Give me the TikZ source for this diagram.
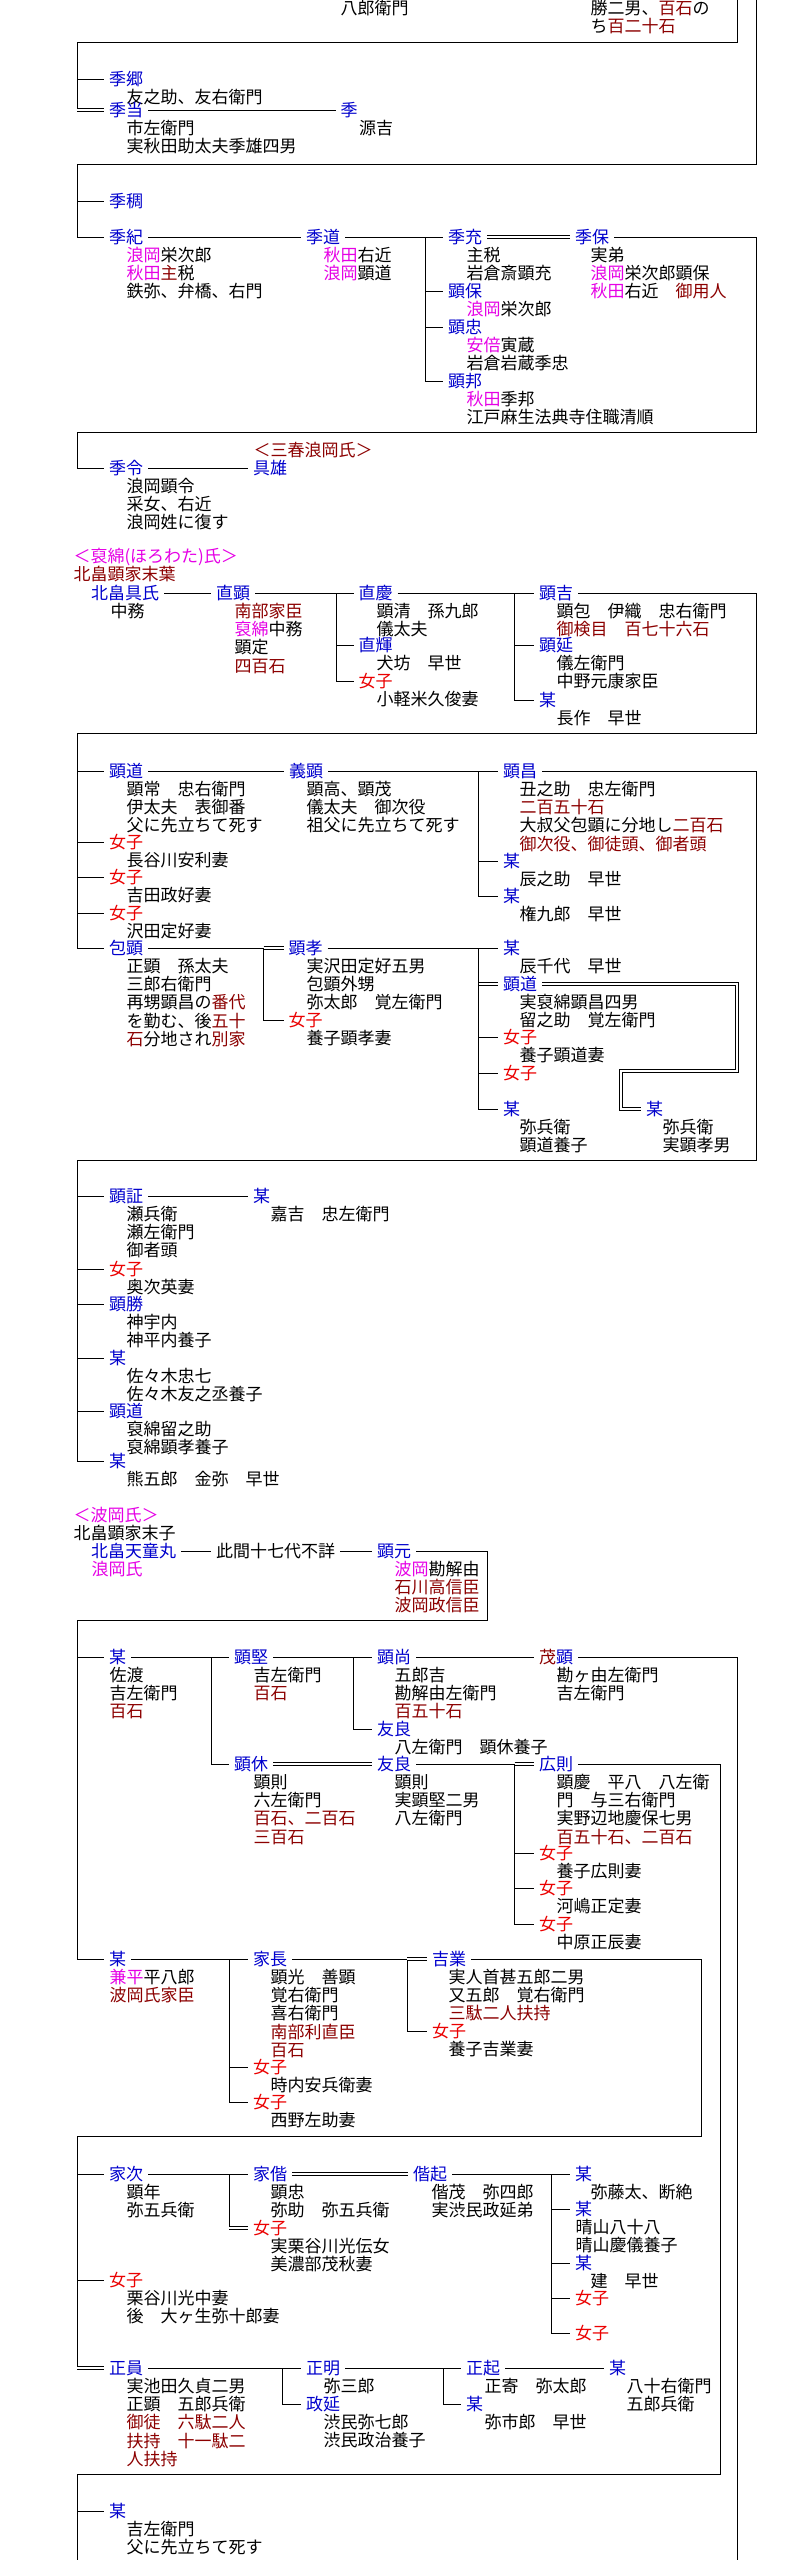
\documentclass[tikz,border=0pt]{standalone}
\usepackage{fontspec}
\setmainfont{Noto Sans CJK JP}
\usetikzlibrary{calc}
\definecolor{nb}{RGB}{0,0,205}
\definecolor{fr}{RGB}{235,0,0}
\definecolor{dr}{RGB}{140,0,0}
\definecolor{mg}{RGB}{230,0,230}
\tikzset{
 base/.style={inner sep=0pt, text height=14.5pt, text depth=2pt, anchor=west},
 nm/.style={base, outer xsep=5pt, xshift=-5pt, text=nb},
 fm/.style={nm, text=fr},
 bk/.style={nm, text=black},
 an/.style={base},
 dl/.style={line width=0.9pt, double, double distance=1.6pt},
}
\newcommand\mkann[4]{\foreach \annline [count=\annidx] in {#4}{\node[an] (#1-\annidx) at (#2,{#3+18.2*\annidx}) {\annline};}}
\begin{document}
\begin{tikzpicture}[x=1pt,y=-1pt,line width=1pt,every node/.style={font=\fontsize{17}{18.2}\selectfont}]
\useasboundingbox (0,0) rectangle (794,2560);
\fill[white] (0,0) rectangle (794,2560);
% ---------- top fragment
\node[an] (t1) at (340,8) {八郎衛門};
\node[an] (t2) at (590,8) {勝二男、\textcolor{dr}{百石}の};
\node[an] (t3) at (590,26) {ち\textcolor{dr}{百二十石}};
\coordinate (cT1) at (737,-3);
\coordinate (cT2) at (756,-3);
\coordinate (cA) at (77,42);
\draw (cT1) |- (cA);
% ---------- block A
\node[nm] (kA1) at (109,79) {季郷};
\mkann{kA1}{126}{79}{友之助、友右衛門}
\node[nm] (kA2) at (109,110) {季当};
\mkann{kA2}{126}{110}{市左衛門,実秋田助太夫季雄四男}
\node[nm] (kA3) at (340.5,110) {季};
\mkann{kA3}{358.5}{110}{源吉}
\draw (cA) -- (cA |- kA2.west);
\draw[dl] (cA |- kA2.west) -- (kA2.west);
\draw (cA |- kA1.west) -- (kA1.west);
\draw (kA2.east) -- (kA3.west);
% ---------- block B
\coordinate (cB) at (77,164);
\node[nm] (kB1) at (109,201) {季稠};
\node[nm] (kB2) at (109,237) {季紀};
\mkann{kB2}{126}{237}{\textcolor{mg}{浪岡}栄次郎,\textcolor{mg}{秋田}\textcolor{dr}{主}税,鉄弥、弁橋、右門}
\node[nm] (kB3) at (306,237) {季道};
\mkann{kB3}{323}{237}{\textcolor{mg}{秋田}右近,\textcolor{mg}{浪岡}顕道}
\node[nm] (kB4) at (448,237) {季充};
\mkann{kB4}{466}{237}{主税,岩倉斎顕充}
\node[nm] (kB5) at (448,291) {顕保};
\mkann{kB5}{466}{291}{\textcolor{mg}{浪岡}栄次郎}
\node[nm] (kB6) at (448,327) {顕忠};
\mkann{kB6}{466}{327}{\textcolor{mg}{安倍}寅蔵,岩倉岩蔵季忠}
\node[nm] (kB7) at (448,381) {顕邦};
\mkann{kB7}{466}{381}{\textcolor{mg}{秋田}季邦,江戸麻生法典寺住職清順}
\node[nm] (kB8) at (575,237) {季保};
\mkann{kB8}{590}{237}{実弟,\textcolor{mg}{浪岡}栄次郎顕保,\textcolor{mg}{秋田}右近　\textcolor{dr}{御用人}}
\draw (cT2) |- (cB) |- (kB2.west);
\draw (cB |- kB1.west) -- (kB1.west);
\coordinate (vB) at (425,237);
\draw (kB2.east) -- (kB3.west);
\draw (kB3.east) -- (kB4.west);
\draw (vB) |- (kB7.west);
\draw (vB |- kB5.west) -- (kB5.west);
\draw (vB |- kB6.west) -- (kB6.west);
\draw[dl] (kB4.east) -- (kB8.west);
% ---------- block C
\coordinate (cCr) at (756,432);
\coordinate (cC) at (77,432);
\node[nm] (kC1) at (109,468) {季令};
\mkann{kC1}{126}{468}{浪岡顕令,采女、右近,浪岡姓に復す}
\node[nm] (kC2) at (253,468) {具雄};
\node[an,text=dr] (hC) at (253,450) {＜三春浪岡氏＞};
\draw (kB8.east) -| (cCr) -- (cC) |- (kC1.west);
\draw (kC1.east) -- (kC2.west);
% ---------- Horowata
\node[an,text=mg] (hD1) at (73,556) {＜裒綿(ほろわた)氏＞};
\node[an,text=dr] (hD2) at (73,574) {北畠顕家末葉};
\node[nm] (kD1) at (91,593) {北畠具氏};
\node[an] (kD1-1) at (110,611) {中務};
\node[nm] (kD2) at (216,593) {直顕};
\mkann{kD2}{234}{593}{\textcolor{dr}{南部家臣},\textcolor{mg}{裒綿}中務,顕定,\textcolor{dr}{四百石}}
\node[nm] (kD3) at (358.5,593) {直慶};
\mkann{kD3}{376}{593}{顕清　孫九郎,儀太夫}
\node[nm] (kD4) at (358.5,645) {直輝};
\mkann{kD4}{376}{645}{犬坊　早世}
\node[fm] (kD5) at (358.5,681) {女子};
\mkann{kD5}{376}{681}{小軽米久俊妻}
\node[nm] (kD6) at (539,593) {顕吉};
\mkann{kD6}{556}{593}{顕包　伊織　忠右衛門,\textcolor{dr}{御検目　百七十六石}}
\node[nm] (kD7) at (539,645) {顕延};
\mkann{kD7}{556}{645}{儀左衛門,中野元康家臣}
\node[nm] (kD8) at (539,700) {某};
\mkann{kD8}{556}{700}{長作　早世}
\draw (kD1.east) -- (kD2.west);
\draw (kD2.east) -- (kD3.west);
\coordinate (vD1) at (336.5,593);
\draw (vD1) |- (kD5.west);
\draw (vD1 |- kD4.west) -- (kD4.west);
\draw (kD3.east) -- (kD6.west);
\coordinate (vD2) at (514.6,593);
\draw (vD2) |- (kD8.west);
\draw (vD2 |- kD7.west) -- (kD7.west);
% ---------- block E
\coordinate (cEr) at (756,733);
\coordinate (cE) at (77,733);
\node[nm] (kE1) at (109,771) {顕道};
\mkann{kE1}{126}{771}{顕常　忠右衛門,伊太夫　表御番,父に先立ちて死す}
\node[nm] (kE2) at (289,771) {義顕};
\mkann{kE2}{306}{771}{顕高、顕茂,儀太夫　御次役,祖父に先立ちて死す}
\node[nm] (kE3) at (503,771) {顕昌};
\mkann{kE3}{519}{771}{丑之助　忠左衛門,\textcolor{dr}{二百五十石},大叔父包顕に分地し\textcolor{dr}{二百石},\textcolor{dr}{御次役、御徒頭、御者頭}}
\node[nm] (kE4) at (503,861) {某};
\mkann{kE4}{519}{861}{辰之助　早世}
\node[nm] (kE5) at (503,896) {某};
\mkann{kE5}{519}{896}{権九郎　早世}
\node[fm] (kE6) at (109,842) {女子};
\mkann{kE6}{126}{842}{長谷川安利妻}
\node[fm] (kE7) at (109,877) {女子};
\mkann{kE7}{126}{877}{吉田政好妻}
\node[fm] (kE8) at (109,913) {女子};
\mkann{kE8}{126}{913}{沢田定好妻}
\node[nm] (kE9) at (109,948) {包顕};
\mkann{kE9}{126}{948}{正顕　孫太夫,三郎右衛門,再甥顕昌の\textcolor{dr}{番代},を勤む、後\textcolor{dr}{五十},\textcolor{dr}{石}分地され\textcolor{dr}{別家}}
\node[nm] (kE10) at (288.6,948) {顕孝};
\mkann{kE10}{306}{948}{実沢田定好五男,包顕外甥,弥太郎　覚左衛門}
\node[fm] (kE11) at (288.6,1020) {女子};
\mkann{kE11}{306}{1020}{養子顕孝妻}
\node[nm] (kE12) at (503,948) {某};
\mkann{kE12}{519}{948}{辰千代　早世}
\node[nm] (kE13) at (503,984) {顕道};
\mkann{kE13}{519}{984}{実裒綿顕昌四男,留之助　覚左衛門}
\node[fm] (kE14) at (503,1037) {女子};
\mkann{kE14}{519}{1037}{養子顕道妻}
\node[fm] (kE15) at (503,1073) {女子};
\node[nm] (kE16) at (503,1109) {某};
\mkann{kE16}{519}{1109}{弥兵衛,顕道養子}
\node[nm] (kE17) at (646,1109) {某};
\mkann{kE17}{662}{1109}{弥兵衛,実顕孝男}
\draw (kD6.east) -| (cEr) -- (cE) |- (kE9.west);
\draw (cE |- kE1.west) -- (kE1.west);
\draw (cE |- kE6.west) -- (kE6.west);
\draw (cE |- kE7.west) -- (kE7.west);
\draw (cE |- kE8.west) -- (kE8.west);
\draw (kE1.east) -- (kE2.west);
\draw (kE2.east) -- (kE3.west);
\coordinate (vE1) at (478.7,771);
\draw (vE1) |- (kE5.west);
\draw (vE1 |- kE4.west) -- (kE4.west);
\coordinate (vE2) at (263.7,948);
\draw (kE9.east) -- (vE2) |- (kE11.west);
\draw[dl] (vE2) -- (kE10.west);
\draw (kE10.east) -- (kE12.west);
\coordinate (vE3) at (478.7,948);
\draw (vE3) |- (kE16.west);
\draw[dl] (vE3 |- kE13.west) -- (kE13.west);
\draw (vE3 |- kE14.west) -- (kE14.west);
\draw (vE3 |- kE15.west) -- (kE15.west);
\coordinate (dE1) at (737,1071);
\coordinate (dE2) at (621,1071);
\draw[dl] (kE13.east) -| (dE1) -- (dE2) |- (kE17.west);
% ---------- block F
\coordinate (cFr) at (756,1160);
\coordinate (cF) at (77,1160);
\node[nm] (kF1) at (109,1196) {顕証};
\mkann{kF1}{126}{1196}{瀬兵衛,瀬左衛門,御者頭}
\node[nm] (kF2) at (253,1196) {某};
\mkann{kF2}{270}{1196}{嘉吉　忠左衛門}
\node[fm] (kF3) at (109,1269) {女子};
\mkann{kF3}{126}{1269}{奥次英妻}
\node[nm] (kF4) at (109,1304) {顕勝};
\mkann{kF4}{126}{1304}{神宇内,神平内養子}
\node[nm] (kF5) at (109,1358) {某};
\mkann{kF5}{126}{1358}{佐々木忠七,佐々木友之丞養子}
\node[nm] (kF6) at (109,1411) {顕道};
\mkann{kF6}{126}{1411}{裒綿留之助,裒綿顕孝養子}
\node[nm] (kF7) at (109,1461) {某};
\mkann{kF7}{126}{1461}{熊五郎　金弥　早世}
\draw (kE3.east) -| (cFr) -- (cF) |- (kF7.west);
\foreach \k in {kF1,kF3,kF4,kF5,kF6} {\draw (cF |- \k.west) -- (\k.west);}
\draw (kF1.east) -- (kF2.west);
% ---------- Namioka
\node[an,text=mg] (hN1) at (73,1515) {＜波岡氏＞};
\node[an] (hN2) at (73,1533) {北畠顕家末子};
\node[nm] (kG1) at (91,1551) {北畠天童丸};
\node[an,text=mg] (kG1-1) at (91,1569) {浪岡氏};
\node[bk] (kG2) at (216,1551) {此間十七代不詳};
\node[nm] (kG3) at (377,1551) {顕元};
\mkann{kG3}{394}{1551}{\textcolor{mg}{波岡}勘解由,\textcolor{dr}{石川高信臣},\textcolor{dr}{波岡政信臣}}
\draw (kG1.east) -- (kG2.west);
\draw (kG2.east) -- (kG3.west);
\coordinate (cGr) at (487.5,1620);
\coordinate (cG) at (77,1620);
% ---------- block H
\node[nm] (kH1) at (109,1657) {某};
\mkann{kH1}{109}{1657}{佐渡,吉左衛門,\textcolor{dr}{百石}}
\node[nm] (kH2) at (234,1657) {顕堅};
\mkann{kH2}{253}{1657}{吉左衛門,\textcolor{dr}{百石}}
\node[nm] (kH3) at (377,1657) {顕尚};
\mkann{kH3}{394}{1657}{五郎吉,勘解由左衛門,\textcolor{dr}{百五十石}}
\node[nm] (kH4) at (377,1729) {友良};
\mkann{kH4}{394}{1729}{八左衛門　顕休養子}
\node[nm] (kH5) at (539,1657) {\textcolor{dr}{茂}顕};
\mkann{kH5}{556}{1657}{勘ヶ由左衛門,吉左衛門}
\node[nm] (kH6) at (234,1764) {顕休};
\mkann{kH6}{253}{1764}{顕則,六左衛門,\textcolor{dr}{百石、二百石},\textcolor{dr}{三百石}}
\node[nm] (kH7) at (377,1764) {友良};
\mkann{kH7}{394}{1764}{顕則,実顕堅二男,八左衛門}
\node[nm] (kH8) at (539,1764) {広則};
\mkann{kH8}{556}{1764}{顕慶　平八　八左衛,門　与三右衛門,実野辺地慶保七男,\textcolor{dr}{百五十石、二百石}}
\node[fm] (kH9) at (539,1853) {女子};
\mkann{kH9}{556}{1853}{養子広則妻}
\node[fm] (kH10) at (539,1888) {女子};
\mkann{kH10}{556}{1888}{河嶋正定妻}
\node[fm] (kH11) at (539,1924) {女子};
\mkann{kH11}{556}{1924}{中原正辰妻}
% ---------- block I
\node[nm] (kI1) at (109,1959) {某};
\mkann{kI1}{109}{1959}{\textcolor{mg}{兼平}平八郎,\textcolor{dr}{波岡氏家臣}}
\node[nm] (kI2) at (253,1959) {家長};
\mkann{kI2}{270}{1959}{顕光　善顕,覚右衛門,喜右衛門,\textcolor{dr}{南部利直臣},\textcolor{dr}{百石}}
\node[fm] (kI3) at (253,2067) {女子};
\mkann{kI3}{270}{2067}{時内安兵衛妻}
\node[fm] (kI4) at (253,2102) {女子};
\mkann{kI4}{270}{2102}{西野左助妻}
\node[nm] (kI5) at (432,1959) {吉業};
\mkann{kI5}{448}{1959}{実人首甚五郎二男,又五郎　覚右衛門,\textcolor{dr}{三駄二人扶持}}
\node[fm] (kI6) at (432,2031) {女子};
\mkann{kI6}{448}{2031}{養子吉業妻}
\draw (kG3.east) -| (cGr) -- (cG) |- (kI1.west);
\draw (cG |- kH1.west) -- (kH1.west);
\draw (kH1.east) -- (kH2.west);
\coordinate (vH1) at (211.5,1657);
\draw (vH1) |- (kH6.west);
\draw (kH2.east) -- (kH3.west);
\coordinate (vH2) at (353.3,1657);
\draw (vH2) |- (kH4.west);
\draw (kH3.east) -- (kH5.west);
\coordinate (cHb) at (737,2570);
\draw (kH5.east) -| (cHb);
\draw[dl] (kH6.east) -- (kH7.west);
\coordinate (vH3) at (514.6,1764);
\draw (kH7.east) -- (vH3) |- (kH11.west);
\draw[dl] (vH3) -- (kH8.west);
\draw (vH3 |- kH9.west) -- (kH9.west);
\draw (vH3 |- kH10.west) -- (kH10.west);
\coordinate (vI1) at (229.4,1959);
\draw (kI1.east) -- (kI2.west);
\draw (vI1) |- (kI4.west);
\draw (vI1 |- kI3.west) -- (kI3.west);
\coordinate (vI2) at (407,1959);
\draw (kI2.east) -- (vI2) |- (kI6.west);
\draw[dl] (vI2) -- (kI5.west);
% ---------- block J
\coordinate (cJr) at (701.5,2136);
\coordinate (cJ) at (77,2136);
\node[nm] (kJ1) at (109,2174) {家次};
\mkann{kJ1}{126}{2174}{顕年,弥五兵衛}
\node[nm] (kJ2) at (253,2174) {家偕};
\mkann{kJ2}{270}{2174}{顕忠,弥助　弥五兵衛}
\node[fm] (kJ3) at (253,2228) {女子};
\mkann{kJ3}{270}{2228}{実栗谷川光伝女,美濃部茂秋妻}
\node[nm] (kJ4) at (413,2174) {偕起};
\mkann{kJ4}{431}{2174}{偕茂　弥四郎,実渋民政延弟}
\node[nm] (kJ5) at (575,2174) {某};
\mkann{kJ5}{590}{2174}{弥藤太、断絶}
\node[nm] (kJ6) at (575,2209) {某};
\mkann{kJ6}{575}{2209}{晴山八十八,晴山慶儀養子}
\node[nm] (kJ7) at (575,2263) {某};
\mkann{kJ7}{590}{2263}{建　早世}
\node[fm] (kJ8) at (575,2298) {女子};
\node[fm] (kJ9) at (575,2333) {女子};
\node[fm] (kJ10) at (109,2280) {女子};
\mkann{kJ10}{126}{2280}{栗谷川光中妻,後　大ヶ生弥十郎妻}
\node[nm] (kJ11) at (109,2368) {正員};
\mkann{kJ11}{126}{2368}{実池田久貞二男,正顕　五郎兵衛,\textcolor{dr}{御徒　六駄二人},\textcolor{dr}{扶持　十一駄二},\textcolor{dr}{人扶持}}
\node[nm] (kJ12) at (306,2368) {正明};
\mkann{kJ12}{323}{2368}{弥三郎}
\node[nm] (kJ13) at (306,2404) {政延};
\mkann{kJ13}{323}{2404}{渋民弥七郎,渋民政治養子}
\node[nm] (kJ14) at (466,2368) {正起};
\mkann{kJ14}{484}{2368}{正寄　弥太郎}
\node[nm] (kJ15) at (466,2404) {某};
\mkann{kJ15}{484}{2404}{弥市郎　早世}
\node[nm] (kJ16) at (609,2368) {某};
\mkann{kJ16}{626}{2368}{八十右衛門,五郎兵衛}
\draw (kI5.east) -| (cJr) -- (cJ) -- (cJ |- kJ11.west);
\draw[dl] (cJ |- kJ11.west) -- (kJ11.west);
\draw (cJ |- kJ1.west) -- (kJ1.west);
\draw (cJ |- kJ10.west) -- (kJ10.west);
\coordinate (vJ1) at (229.4,2174);
\draw (kJ1.east) -- (kJ2.west);
\draw (vJ1) -- (vJ1 |- kJ3.west);
\draw[dl] (vJ1 |- kJ3.west) -- (kJ3.west);
\draw[dl] (kJ2.east) -- (kJ4.west);
\coordinate (vJ2) at (551.5,2174);
\draw (kJ4.east) -- (kJ5.west);
\draw (vJ2) |- (kJ9.west);
\draw (vJ2 |- kJ6.west) -- (kJ6.west);
\draw (vJ2 |- kJ7.west) -- (kJ7.west);
\draw (vJ2 |- kJ8.west) -- (kJ8.west);
\coordinate (vJ3) at (282.6,2368);
\draw (kJ11.east) -- (kJ12.west);
\draw (vJ3) |- (kJ13.west);
\coordinate (vJ4) at (443.4,2368);
\draw (kJ12.east) -- (kJ14.west);
\draw (vJ4) |- (kJ15.west);
\draw (kJ14.east) -- (kJ16.west);
% ---------- block L
\coordinate (cLr) at (720.5,2474);
\coordinate (cL) at (77,2474);
\coordinate (cLb) at (77,2575);
\node[nm] (kL1) at (109,2511) {某};
\mkann{kL1}{126}{2511}{吉左衛門,父に先立ちて死す}
\node[fm] (kL2) at (109,2569) {女子};
\node[nm] (kL3) at (343,2569) {某};
\draw (kH8.east) -| (cLr) -- (cL) -- (cLb);
\draw (cL |- kL1.west) -- (kL1.west);
\draw (cL |- kL2.west) -- (kL2.west);
\end{tikzpicture}
\end{document}
